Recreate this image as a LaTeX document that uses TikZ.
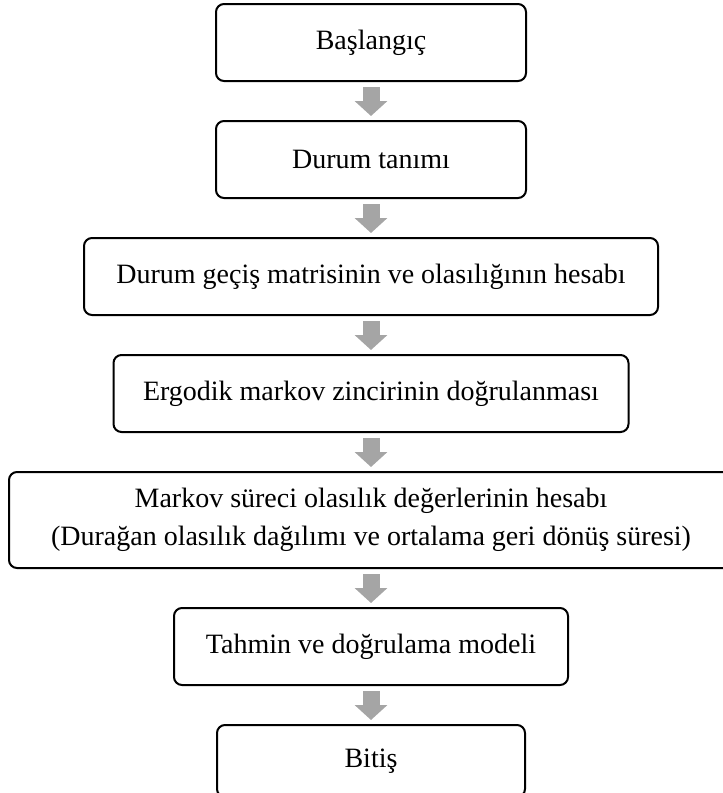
\documentclass[tikz,border=0pt]{standalone}
\usepackage{fontspec}
\setmainfont{Liberation Serif}
\usepackage{tikz}
\usetikzlibrary{positioning, arrows.meta}
\definecolor{flowgray}{HTML}{A5A5A5}

\begin{document}
\begin{tikzpicture}[x=1pt,y=1pt,node distance=38pt,font=\fontsize{28}{38}\selectfont]
	\tikzstyle{step box} = [draw,line width=2pt,rounded corners=8pt,minimum height=77pt,align=center,inner sep=0pt]
	\tikzstyle{flow} = [color=flowgray,line width=17pt,-{Triangle[width=32pt,length=15pt,fill=flowgray]},shorten <=5pt,shorten >=4pt]
	\useasboundingbox (0,0) rectangle (723,-793);
	\node[step box,minimum width=310pt]	(a) at (371,-42.5)	{Başlangıç};
	\node[step box,minimum width=310pt]	(b) [below=of a]	{Durum tanımı};
	\node[step box,minimum width=574pt]	(c) [below=of b]	{Durum geçiş matrisinin ve olasılığının hesabı};
	\node[step box,minimum width=515pt]	(d) [below=of c]	{Ergodik markov zincirinin doğrulanması};
	\node[step box,minimum width=724pt,minimum height=96pt]	(e) [below=of d]	{Markov süreci olasılık değerlerinin hesabı\\(Durağan olasılık dağılımı ve ortalama geri dönüş süresi)};
	\node[step box,minimum width=394pt]	(f) [below=of e]	{Tahmin ve doğrulama modeli};
	\node[step box,minimum width=308pt,minimum height=72pt]	(g) [below=of f]	{Bitiş};
	\path[flow]	(a) edge (b)
			(b) edge (c)
			(c) edge (d)
			(d) edge (e)
			(e) edge (f)
			(f) edge (g);
\end{tikzpicture}
\end{document}
